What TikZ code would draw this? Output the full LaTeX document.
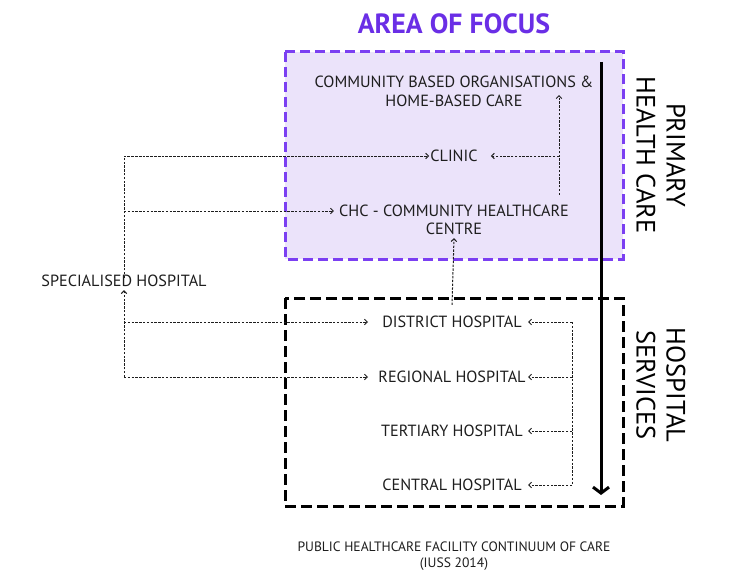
\documentclass[tikz,border=0pt]{standalone}
\usepackage{fontspec}
\setmainfont{PT Sans}
\usetikzlibrary{arrows.meta,calc}
\definecolor{focus}{HTML}{6A2EE6}
\definecolor{focusbox}{HTML}{7B3FF2}
\definecolor{focusfill}{HTML}{EBE3FA}
\definecolor{ink}{HTML}{1E1E1E}
\begin{document}
\begin{tikzpicture}[x=1pt,y=-1pt,
  lbl/.style={font=\fontsize{16.2}{18}\selectfont, text=ink, inner sep=3pt},
  side/.style={font=\fontsize{26.5}{30}\selectfont, text=black, rotate=-90, align=center, inner sep=0pt},
  captxt/.style={font=\fontsize{13.6}{16}\selectfont, text=ink, align=center, inner sep=0pt},
  conn/.style={draw=ink, line width=1pt, dash pattern=on 2.4pt off 1.4pt,
    -{Straight Barb[length=2.8pt,width=5.5pt]}},
  connplain/.style={draw=ink, line width=1pt, dash pattern=on 2.4pt off 1.4pt},
  areabox/.style={draw=focusbox, fill=focusfill, line width=3pt, dash pattern=on 10pt off 5pt},
  hospbox/.style={draw=black, line width=3pt, dash pattern=on 11pt off 5pt},
  flow/.style={draw=black, line width=3pt, -{Straight Barb[length=6pt,width=16pt]}}]
\useasboundingbox[fill=white] (0,0) rectangle (755,586);

% boxes
\draw[areabox] (285,52) rectangle (623,259);
\draw[hospbox] (285,298) rectangle (623,506);

% title
\node[font=\fontsize{27.8}{30}\selectfont\bfseries, text=focus, inner sep=0pt] (title) at (454,24) {AREA OF FOCUS};

% primary care nodes
\node[lbl] (cbo) at (454,82) {COMMUNITY BASED ORGANISATIONS \&};
\node[lbl] (cbo2) at (454,101) {HOME-BASED CARE};
\node[lbl] (clinic) at (454,156) {CLINIC};
\node[lbl] (chc) at (454,211) {CHC - COMMUNITY HEALTHCARE};
\node[lbl] (chc2) at (454,229) {CENTRE};

% hospitals
\node[lbl] (sp) at (124,281) {SPECIALISED HOSPITAL};
\node[lbl] (dist) at (452,322) {DISTRICT HOSPITAL};
\node[lbl] (reg) at (452,377) {REGIONAL HOSPITAL};
\node[lbl] (tert) at (452,431) {TERTIARY HOSPITAL};
\node[lbl] (cent) at (452,485) {CENTRAL HOSPITAL};

% side labels
\node[side] (phc) at (661,155) {PRIMARY\\HEALTH CARE};
\node[side] (hs) at (661,385) {HOSPITAL\\SERVICES};

% caption
\node[captxt] (caption) at (454,556) {PUBLIC HEALTHCARE FACILITY CONTINUUM OF CARE\\(IUSS 2014)};

% helper coordinates
\coordinate (ltip) at (368,0);
\coordinate (rx) at (559,95);
\coordinate (hx) at (572,0);
\coordinate (htip) at (528,0);
\coordinate (flowtop) at (601,62);
\coordinate (flowbot) at (601,495);

% main flow arrow
\draw[flow] (flowtop) -- (flowbot);

% specialised hospital to primary care
\draw[connplain] ([yshift=-6pt]sp.north) |- (clinic.west);
\draw[conn] (sp.north |- chc.west) -- ([xshift=-2pt]chc.west);
\draw[conn] (clinic.west -| sp.north) -- ([xshift=2pt]clinic.west);

% hospitals to specialised hospital
\draw[conn] (reg.west -| sp.south) -- (sp.south);
\draw[conn] (dist.west -| sp.south) -- (dist.west -| ltip);
\draw[conn] (reg.west -| sp.south) -- (reg.west -| ltip);

% CHC to clinic and community
\draw[conn] ([yshift=7pt]chc.north -| rx) -- (rx);
\draw[conn] (clinic.east -| rx) -- ([xshift=10pt]clinic.east);

% district to CHC
\draw[conn] ([yshift=8pt]dist.north) -- (chc2.south);

% right hospital bracket
\draw[connplain] (dist.east -| hx) -- (cent.east -| hx);
\draw[conn] (dist.east -| hx) -- (dist.east -| htip);
\draw[conn] (reg.east -| hx) -- (reg.east -| htip);
\draw[conn] (tert.east -| hx) -- (tert.east -| htip);
\draw[conn] (cent.east -| hx) -- (cent.east -| htip);
\end{tikzpicture}
\end{document}
